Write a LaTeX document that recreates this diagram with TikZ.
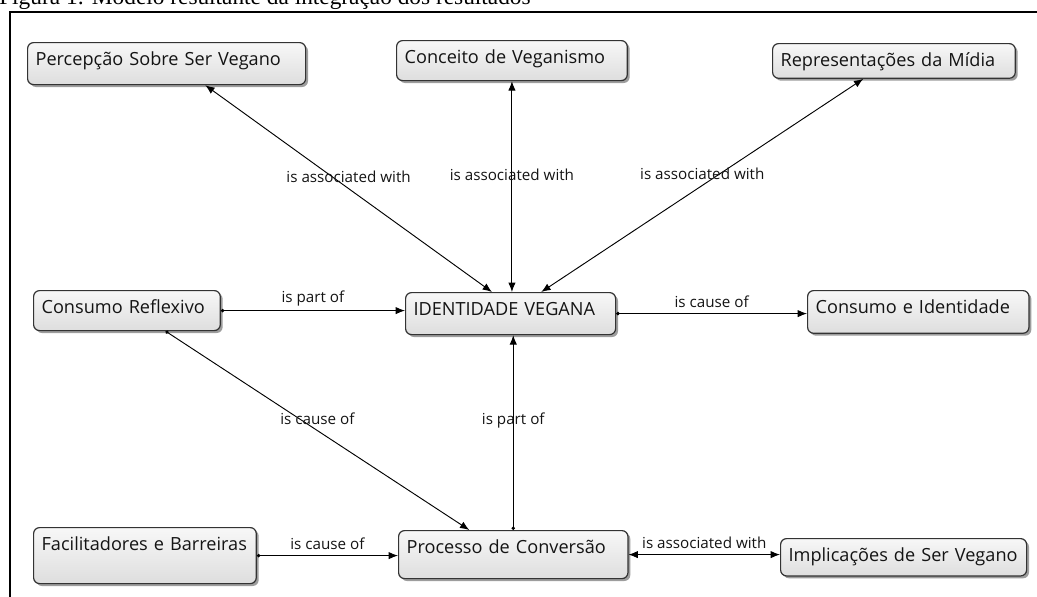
\documentclass[tikz,border=0pt]{standalone}
\usepackage{fontspec}
\usepackage{tikz}
\usetikzlibrary{arrows.meta,shadows}
\newfontfamily\opensans{Open Sans}
\newfontfamily\tempos{Liberation Serif}
\definecolor{bordacaixa}{HTML}{333333}
\definecolor{textocaixa}{HTML}{141414}
\tikzset{
	conceito/.style 2 args={draw=bordacaixa, line width=0.9pt, rounded corners=4.5pt,
		top color=white!97!black, bottom color=black!13,
		drop shadow={shadow xshift=1.8pt, shadow yshift=-1.8pt, fill=black!55, opacity=0.7},
		anchor=north west, align=left, inner xsep=6pt, inner ysep=3pt,
		text height=14.5pt, text width=#1, text depth=#2,
		font=\opensans\fontsize{13.6}{15}\selectfont, text=textocaixa},
	ligacao/.style={line width=0.7pt, {Circle[length=2.6pt]}-{Latex[length=7pt,width=5.5pt]}},
	ligadupla/.style={line width=0.7pt, {Latex[length=7pt,width=5.5pt]}-{Latex[length=7pt,width=5.5pt]}},
	rotulo/.style={midway, yshift=9pt, font=\opensans\fontsize{11.4}{13}\selectfont, text=textocaixa}
}
\begin{document}
\begin{tikzpicture}[x=0.75pt,y=-0.75pt]
	\useasboundingbox (0,0) rectangle (1037,596);
	\clip (0,0) rectangle (1037,596);

	% legenda e moldura
	\node[anchor=base west, inner sep=0pt, font=\tempos\fontsize{17.5}{20}\selectfont] (legenda) at (-1,4) {Figura 1: Modelo resultante da integração dos resultados};
	\draw[line width=0.8pt] (1040,12) -- (10,12) -- (10,600);

	% conceitos
	\node[conceito={196.5pt}{11pt}] (percepcao) at (27,42) {Percepção Sobre Ser Vegano};
	\node[conceito={161pt}{9.5pt}] (conceito) at (396,40) {Conceito de Veganismo};
	\node[conceito={170pt}{5.5pt}] (midia) at (772,43) {Representações da Mídia};
	\node[conceito={128pt}{9.5pt}] (reflexivo) at (33,290) {Consumo Reflexivo};
	\node[conceito={145.5pt}{11pt}] (identidade) at (405,292) {IDENTIDADE VEGANA};
	\node[conceito={154pt}{11.5pt}] (consumo) at (807,290) {Consumo e Identidade};
	\node[conceito={155pt}{21.5pt}] (facilitadores) at (33,527) {Facilitadores e Barreiras};
	\node[conceito={160pt}{15.5pt}] (conversao) at (398,530) {Processo de Conversão};
	\node[conceito={172.5pt}{7.5pt}] (implicacoes) at (780,538) {Implicações de Ser Vegano};

	% ligacoes
	\draw[ligadupla] ([xshift=29pt]percepcao.south) -- node[rotulo] {is associated with} ([xshift=-14pt]identidade.north);
	\draw[ligadupla] (conceito.south) -- node[rotulo] {is associated with} (conceito.south |- identidade.north);
	\draw[ligadupla] ([xshift=-23pt]midia.south) -- node[rotulo] {is associated with} ([xshift=23pt]identidade.north);
	\draw[ligacao] (reflexivo.east) -- node[rotulo] {is part of} (reflexivo.east -| identidade.west);
	\draw[ligacao] (identidade.east) -- node[rotulo] {is cause of} (identidade.east -| consumo.west);
	\draw[ligacao] ([xshift=29pt]reflexivo.south) -- node[rotulo] {is cause of} ([xshift=-33pt]conversao.north);
	\draw[ligacao] (conversao.north) -- node[rotulo] {is part of} (conversao.north |- identidade.south);
	\draw[ligacao] (facilitadores.east) -- node[rotulo] {is cause of} (facilitadores.east -| conversao.west);
	\draw[ligadupla] (conversao.east) -- node[rotulo] {is associated with} (conversao.east -| implicacoes.west);
\end{tikzpicture}
\end{document}
